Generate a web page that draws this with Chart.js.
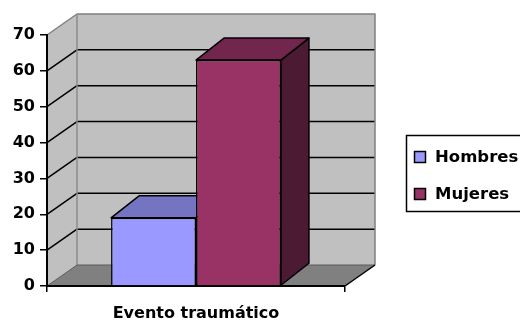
<!DOCTYPE html>
<html>
<head>
<meta charset="utf-8">
<script src="https://cdn.jsdelivr.net/npm/chart.js@4.4.1/dist/chart.umd.min.js"></script>
<style>
  html, body { margin: 0; padding: 0; background: #ffffff; overflow: hidden; }
  canvas { display: block; }
</style>
</head>
<body>
<canvas id="chart" width="520" height="322"></canvas>
<script>
// Data
const categories = ['Evento traumático'];
const seriesNames = ['Hombres', 'Mujeres'];
const hombres = [19];
const mujeres = [63];
const yTickValues = [0, 10, 20, 30, 40, 50, 60, 70];

// Face colours for each series: front, top, side
const palette = [
  { front: '#9999ff', top: '#7474c2', side: '#4d4d80' },
  { front: '#993366', top: '#73264d', side: '#4d1a33' }
];

const FONT = '"DejaVu Sans", "Open Sans", sans-serif';
const WALL_DX = 30, WALL_DY = 21;   // depth of walls and floor
const BAR_DX = 28, BAR_DY = 22;     // depth of each column

function poly(ctx, pts, fill, stroke, lw) {
  ctx.beginPath();
  ctx.moveTo(pts[0][0], pts[0][1]);
  for (let i = 1; i < pts.length; i++) ctx.lineTo(pts[i][0], pts[i][1]);
  ctx.closePath();
  if (fill) { ctx.fillStyle = fill; ctx.fill(); }
  if (stroke) { ctx.strokeStyle = stroke; ctx.lineWidth = lw || 1; ctx.stroke(); }
}
function line(ctx, pts, stroke, lw) {
  ctx.beginPath();
  ctx.moveTo(pts[0][0], pts[0][1]);
  for (let i = 1; i < pts.length; i++) ctx.lineTo(pts[i][0], pts[i][1]);
  ctx.strokeStyle = stroke; ctx.lineWidth = lw; ctx.stroke();
}

// Back wall, side wall, floor and gridlines behind the columns
const wallsPlugin = {
  id: 'walls',
  beforeDraw(chart) {
    const ctx = chart.ctx;
    const { left, right, top, bottom } = chart.chartArea;
    const yScale = chart.scales.y;
    const dx = WALL_DX, dy = WALL_DY;
    ctx.save();
    ctx.lineJoin = 'round';
    // side wall
    poly(ctx, [[left, bottom], [left, top], [left + dx, top - dy], [left + dx, bottom - dy]], '#c0c0c0');
    // back wall
    poly(ctx, [[left + dx, top - dy], [right + dx, top - dy], [right + dx, bottom - dy], [left + dx, bottom - dy]], '#c0c0c0');
    // floor
    poly(ctx, [[left, bottom], [right, bottom], [right + dx, bottom - dy], [left + dx, bottom - dy]], '#808080');
    // gridlines on both walls
    yTickValues.forEach(v => {
      if (v === yScale.min || v === yScale.max) return;
      const py = yScale.getPixelForValue(v);
      line(ctx, [[left, py], [left + dx, py - dy], [right + dx, py - dy]], '#000000', 1.5);
    });
    // wall edges
    line(ctx, [[left, top], [left + dx, top - dy], [right + dx, top - dy], [right + dx, bottom - dy]], '#808080', 1.5);
    line(ctx, [[left + dx, top - dy], [left + dx, bottom - dy]], '#8c8c8c', 1.5);
    // floor edges
    line(ctx, [[left, bottom], [left + dx, bottom - dy], [right + dx, bottom - dy]], '#5a5a5a', 1);
    line(ctx, [[right, bottom], [right + dx, bottom - dy]], '#000000', 1.5);
    ctx.restore();
  },
  beforeDatasetsDraw(chart) {
    // top and side faces of each column; front faces are drawn by the bar elements
    const ctx = chart.ctx;
    ctx.save();
    ctx.lineJoin = 'round';
    chart.data.datasets.forEach((ds, i) => {
      const meta = chart.getDatasetMeta(i);
      const col = palette[i];
      meta.data.forEach(el => {
        const { x, y, base, width } = el.getProps(['x', 'y', 'base', 'width'], true);
        const l = x - width / 2, r = x + width / 2;
        poly(ctx, [[r, y], [r + BAR_DX, y - BAR_DY], [r + BAR_DX, base - BAR_DY], [r, base]], col.side, '#000000', 1.5);
        poly(ctx, [[l, y], [l + BAR_DX, y - BAR_DY], [r + BAR_DX, y - BAR_DY], [r, y]], col.top, '#000000', 1.5);
      });
    });
    ctx.restore();
  },
  afterDraw(chart) {
    // legend box
    const ctx = chart.ctx;
    ctx.save();
    ctx.strokeStyle = '#000000';
    ctx.lineWidth = 1.5;
    ctx.strokeRect(406.5, 135.5, 130, 76);
    ctx.font = 'bold 16.5px ' + FONT;
    ctx.textBaseline = 'middle';
    ctx.textAlign = 'left';
    chart.data.datasets.forEach((ds, i) => {
      const cy = 157 + i * 37;
      ctx.fillStyle = palette[i].front;
      ctx.fillRect(414.5, cy - 5.5, 11, 11);
      ctx.strokeStyle = '#000000';
      ctx.lineWidth = 1.5;
      ctx.strokeRect(414.5, cy - 5.5, 11, 11);
      ctx.fillStyle = '#000000';
      ctx.fillText(ds.label, 435, cy + 1);
    });
    ctx.restore();
  }
};

new Chart(document.getElementById('chart'), {
  type: 'bar',
  data: {
    labels: categories,
    datasets: [
      { label: seriesNames[0], data: hombres, backgroundColor: palette[0].front, borderColor: '#000000', borderWidth: 1.5 },
      { label: seriesNames[1], data: mujeres, backgroundColor: palette[1].front, borderColor: '#000000', borderWidth: 1.5 }
    ]
  },
  options: {
    responsive: false,
    animation: false,
    devicePixelRatio: 1,
    categoryPercentage: 0.57,
    barPercentage: 1.0,
    layout: { padding: { left: 0, top: 35, right: 175, bottom: 0 } },
    plugins: { legend: { display: false }, tooltip: { enabled: false } },
    scales: {
      x: {
        grid: { offset: true, drawOnChartArea: false, tickLength: 6, color: '#000000', lineWidth: 1.5 },
        border: { color: '#000000', width: 2 },
        ticks: { color: '#000000', font: { family: FONT, size: 16, weight: 'bold' }, padding: 12 },
        afterFit(s) { s.height = 36; }
      },
      y: {
        min: 0,
        max: 70,
        grid: { drawOnChartArea: false, tickLength: 7, color: '#000000', lineWidth: 1.5 },
        border: { color: '#000000', width: 2 },
        ticks: {
          stepSize: 10,
          color: '#000000',
          padding: 5,
          font: { family: FONT, size: 16, weight: 'bold' }
        },
        afterFit(s) { s.width = 47; }
      }
    }
  },
  plugins: [wallsPlugin]
});
</script>
</body>
</html>
